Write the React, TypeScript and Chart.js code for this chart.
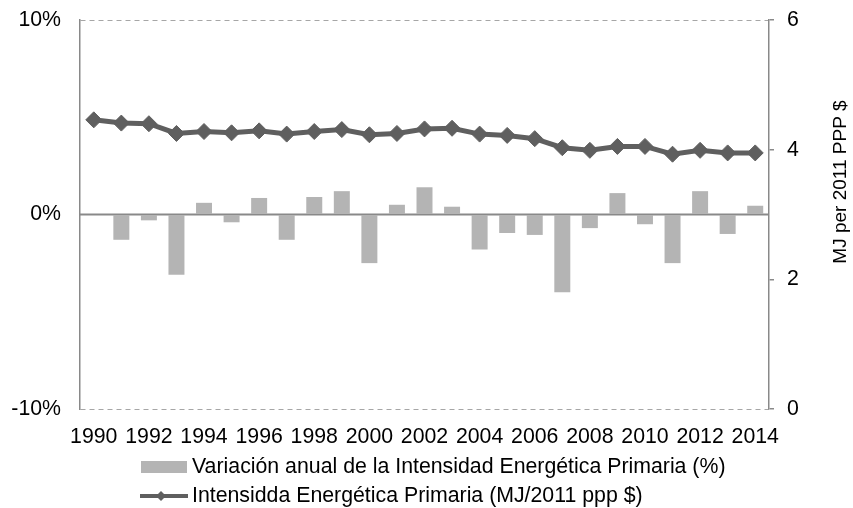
import React, { useEffect, useRef } from 'react';
import { Chart, registerables } from 'chart.js';

Chart.register(...registerables);

const years = ['1990', '1991', '1992', '1993', '1994', '1995', '1996', '1997', '1998', '1999', '2000', '2001', '2002', '2003', '2004', '2005', '2006', '2007', '2008', '2009', '2010', '2011', '2012', '2013', '2014'];
const variation = [0, -1.3, -0.3, -3.1, 0.6, -0.4, 0.85, -1.3, 0.9, 1.2, -2.5, 0.5, 1.4, 0.4, -1.8, -0.95, -1.05, -4.0, -0.7, 1.1, -0.5, -2.5, 1.2, -1.0, 0.45];
const intensity = [4.46, 4.41, 4.40, 4.25, 4.28, 4.26, 4.29, 4.24, 4.28, 4.31, 4.23, 4.25, 4.32, 4.33, 4.24, 4.22, 4.17, 4.03, 3.99, 4.05, 4.05, 3.93, 3.99, 3.95, 3.95];

const barLabel = 'Variación anual de la Intensidad Energética Primaria (%)';
const lineLabel = 'Intensidda Energética Primaria (MJ/2011 ppp $)';
const rightTitle = 'MJ per 2011 PPP $';

const FONT = '"Liberation Sans", Arial, sans-serif';
const FS = 21.3;
const TITLE_FS = 19;
const BAR_COLOR = '#b4b4b4';
const LINE_COLOR = '#5f5f5f';
const AXIS_COLOR = '#898989';

const extras = {
  id: 'extras',
  beforeDatasetsDraw(chart: any) {
    const ctx = chart.ctx;
    const area = chart.chartArea;
    const y0 = chart.scales.y.getPixelForValue(0);
    ctx.save();
    ctx.strokeStyle = AXIS_COLOR;
    ctx.lineWidth = 2;
    ctx.beginPath();
    ctx.moveTo(area.left, y0);
    ctx.lineTo(area.right, y0);
    ctx.stroke();
    ctx.restore();
  },
  afterDraw(chart: any) {
    const ctx = chart.ctx;
    ctx.save();
    ctx.fillStyle = '#000';
    // right axis title
    ctx.save();
    ctx.font = `${TITLE_FS}px ${FONT}`;
    ctx.translate(841, 182);
    ctx.rotate(-Math.PI / 2);
    ctx.textAlign = 'center';
    ctx.textBaseline = 'middle';
    ctx.fillText(rightTitle, 0, 0);
    ctx.restore();
    // legend
    ctx.font = `${FS}px ${FONT}`;
    ctx.textAlign = 'left';
    ctx.textBaseline = 'middle';
    ctx.fillStyle = BAR_COLOR;
    ctx.fillRect(141, 461, 46, 12);
    ctx.fillStyle = '#000';
    ctx.fillText(barLabel, 192, 467);
    ctx.strokeStyle = LINE_COLOR;
    ctx.lineWidth = 4;
    ctx.beginPath();
    ctx.moveTo(140, 496);
    ctx.lineTo(188, 496);
    ctx.stroke();
    ctx.fillStyle = LINE_COLOR;
    ctx.beginPath();
    ctx.moveTo(161 - 5, 496);
    ctx.lineTo(161, 491);
    ctx.lineTo(161 + 5, 496);
    ctx.lineTo(161, 501);
    ctx.closePath();
    ctx.fill();
    ctx.fillStyle = '#000';
    ctx.fillText(lineLabel, 192, 496);
    ctx.restore();
  },
};

export default function App() {
  const ref = useRef<HTMLCanvasElement>(null);
  useEffect(() => {
    if (!ref.current) return;
    Chart.defaults.font.family = FONT;
    Chart.defaults.font.size = FS;
    Chart.defaults.color = '#000';
    const chart = new Chart(ref.current, {
      type: 'bar',
      data: {
        labels: years,
        datasets: [
          {
            type: 'line',
            label: lineLabel,
            data: intensity,
            yAxisID: 'y1',
            borderColor: LINE_COLOR,
            backgroundColor: LINE_COLOR,
            borderWidth: 5,
            pointStyle: 'rectRot',
            pointRadius: 8,
            pointBorderWidth: 1,
            tension: 0,
            order: 1,
          } as any,
          {
            type: 'bar',
            label: barLabel,
            data: variation,
            yAxisID: 'y',
            backgroundColor: BAR_COLOR,
            categoryPercentage: 1,
            barPercentage: 0.58,
            order: 2,
          } as any,
        ],
      },
      options: {
        animation: false,
        responsive: false,
        maintainAspectRatio: false,
        layout: { padding: { top: 20, left: 0, right: 0, bottom: 0 } },
        plugins: { legend: { display: false }, tooltip: { enabled: false } },
        scales: {
          x: {
            offset: true,
            grid: { display: false, drawTicks: false },
            border: { display: false },
            ticks: {
              autoSkip: false,
              maxRotation: 0,
              minRotation: 0,
              padding: 15,
              color: '#000',
              font: { size: FS, family: FONT },
              callback: (_v: any, i: number) => (i % 2 === 0 ? years[i] : ''),
            },
            afterFit: (s: any) => { s.height = 99; s.paddingLeft = 0; s.paddingRight = 0; },
          },
          y: {
            position: 'left',
            min: -10,
            max: 10,
            ticks: {
              stepSize: 10,
              padding: 19,
              color: '#000',
              font: { size: FS, family: FONT },
              callback: (v: any) => `${v}%`,
            },
            grid: { color: '#a6a6a6', lineWidth: 1, drawTicks: false },
            border: { display: true, color: AXIS_COLOR, width: 1.5, dash: [5, 4] },
            afterFit: (s: any) => { s.width = 80; s.paddingTop = 0; s.paddingBottom = 0; },
          },
          y1: {
            position: 'right',
            min: 0,
            max: 6,
            ticks: {
              stepSize: 2,
              padding: 13,
              color: '#000',
              font: { size: FS, family: FONT },
            },
            grid: { drawOnChartArea: false, drawTicks: true, tickLength: 5, color: AXIS_COLOR, lineWidth: 1.5 },
            border: { display: true, color: AXIS_COLOR, width: 1.5 },
            afterFit: (s: any) => { s.width = 84; s.paddingTop = 0; s.paddingBottom = 0; },
          },
        },
      } as any,
      plugins: [extras],
    });
    return () => chart.destroy();
  }, []);
  return (
    <div style={{ position: 'fixed', left: 0, top: 0, width: 853, height: 508, background: '#fff' }}>
      <canvas ref={ref} width={853} height={508} style={{ width: 853, height: 508, display: 'block' }} />
    </div>
  );
}
